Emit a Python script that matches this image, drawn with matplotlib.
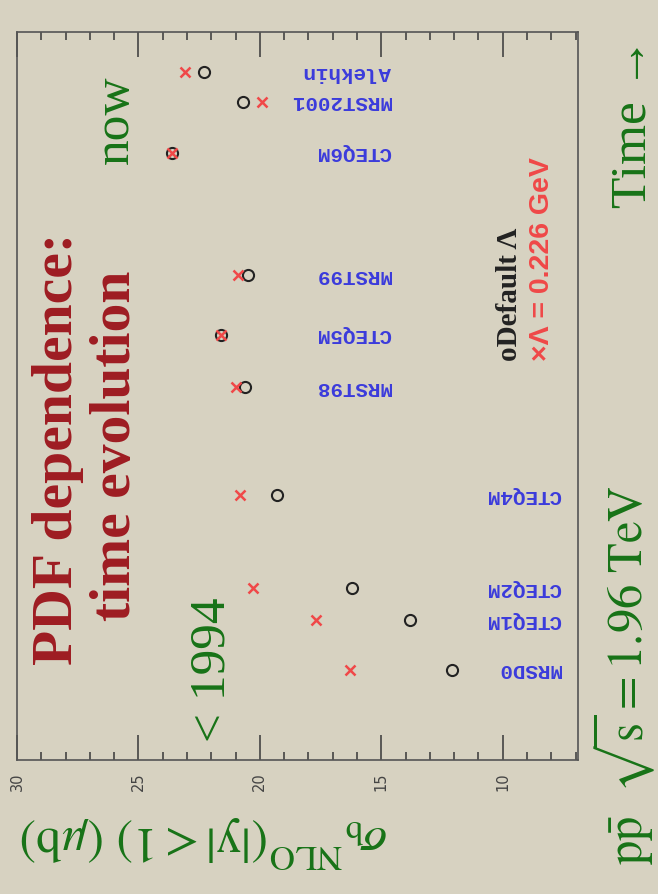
import matplotlib
matplotlib.use('Agg')
import matplotlib.pyplot as plt
from matplotlib.ticker import MultipleLocator

# ---------------------------------------------------------------- data
pdfs = ['MRSD0', 'CTEQ1M', 'CTEQ2M', 'CTEQ4M', 'MRST98',
        'CTEQ5M', 'MRST99', 'CTEQ6M', 'MRST2001', 'Alekhin']
# position along the (vertical) time axis, arbitrary units 0..100
time_pos = [12.4, 19.2, 23.6, 36.4, 51.2, 58.4, 66.6, 83.4, 90.4, 94.5]
# sigma_b NLO (|y|<1) in microbarn
sigma_default = [12.1, 13.8, 16.2, 19.3, 20.6, 21.6, 20.5, 23.6, 20.7, 22.3]
sigma_lambda = [16.3, 17.7, 20.3, 20.8, 21.0, 21.6, 20.9, 23.6, 19.9, 23.1]
sigma_ticks = [30, 25, 20, 15, 10]

# where the pdf names sit (sigma value of the text start)
label_at = [7.6, 7.6, 7.6, 7.6, 14.6, 14.6, 14.6, 14.6, 14.6, 14.6]

# ---------------------------------------------------------------- style
plt.rcParams['mathtext.fontset'] = 'stix'
W, H = 658, 894
paper = '#d7d2c1'
green = '#177317'
darkred = '#9e1c22'
red = '#f04848'
blue = '#3b3bdc'
serif = ['Liberation Serif', 'DejaVu Serif']

fig = plt.figure(figsize=(W / 100, H / 100), dpi=100)
fig.patch.set_facecolor(paper)
ax = fig.add_axes([17 / W, 1 - 760 / H, 561 / W, 728 / H])
ax.set_facecolor('none')

ax.plot(sigma_default, time_pos, 'o', mfc='none', mec='#222222', ms=8, mew=1.5)
ax.plot(sigma_lambda, time_pos, 'x', color=red, ms=7.5, mew=1.8)

for name, t, s in zip(pdfs, time_pos, label_at):
    ax.text(s, t, name, rotation=180, rotation_mode='anchor', ha='left',
            va='center', color=blue, family='Liberation Mono',
            fontweight='bold', fontsize=15)

ax.set_xlim(30, 6.9)
ax.set_ylim(0, 100)
ax.set_xticks(sigma_ticks)
ax.xaxis.set_minor_locator(MultipleLocator(1))
ax.tick_params(axis='x', which='both', direction='in', top=True, bottom=True,
               color='#444444', width=1.2)
ax.tick_params(axis='x', which='major', length=18, labelsize=10.5,
               labelrotation=90, pad=9, labelcolor='#444444')
ax.tick_params(axis='x', which='minor', length=6)
ax.set_yticks([])
for sp in ax.spines.values():
    sp.set_color('#555555')
    sp.set_linewidth(1.2)


# ---------------------------------------------------------------- texts
def ftext(px, py, s, **kw):
    # place text with pixel coordinates of the picture
    fig.text(px / W, 1 - py / H, s, rotation_mode='anchor', **kw)


ftext(72, 449, 'PDF dependence:', rotation=90, ha='center', va='baseline',
      color=darkred, family=serif, weight='bold', size=41.5)
ftext(130, 446, 'time evolution', rotation=90, ha='center', va='baseline',
      color=darkred, family=serif, weight='bold', size=41.5)

ftext(128, 120, 'now', rotation=90, ha='center', va='baseline',
      color=green, family=serif, size=37)
ftext(225, 670, '< 1994', rotation=90, ha='center', va='baseline',
      color=green, family=serif, size=37)
ftext(645, 123, 'Time \u2192', rotation=90, ha='center', va='baseline',
      color=green, family=serif, size=37)
ftext(643, 675, r'$\mathrm{p\bar{p}}\ \ \sqrt{\mathrm{s}} = 1.96\ \mathrm{TeV}$',
      rotation=90, ha='center', va='baseline', color=green, size=35)

ftext(204, 826, r'$\sigma_{\mathrm{b}}{}^{\mathrm{NLO}}(|\mathrm{y}|<1)\ (\mu\mathrm{b})$',
      rotation=180, ha='center', va='baseline', color=green, size=36)

ftext(517, 361, 'oDefault \u039b', rotation=90, ha='left', va='baseline',
      color='#222222', family=serif, weight='bold', size=21)
ftext(549, 361, '\u00d7\u039b = 0.226 GeV', rotation=90, ha='left', va='baseline',
      color=red, family=['Liberation Sans', 'DejaVu Sans'], weight='bold', size=20.5)

fig.savefig('out.png', dpi=100, facecolor=fig.get_facecolor())
